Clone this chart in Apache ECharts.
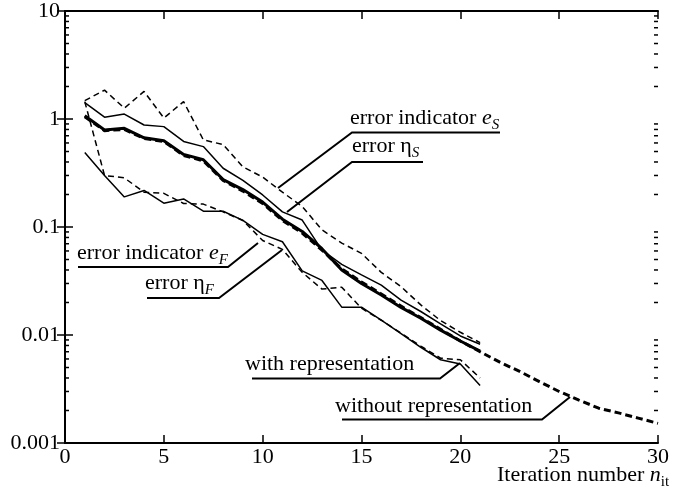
<!DOCTYPE html>
<html>
<head>
<meta charset="utf-8">
<script src="https://cdn.jsdelivr.net/npm/echarts@6/dist/echarts.min.js"></script>
<style>
  html, body { margin: 0; padding: 0; background: #fff; }
  #main { width: 674px; height: 495px; }
</style>
</head>
<body>
<div id="main"></div>
<script>
// iteration numbers
var iters = [1, 2, 3, 4, 5, 6, 7, 8, 9, 10, 11, 12, 13, 14, 15, 16, 17, 18, 19, 20, 21];
var itersLong = [1, 2, 3, 4, 5, 6, 7, 8, 9, 10, 11, 12, 13, 14, 15, 16, 17, 18, 19, 20, 21, 22, 23, 24, 25, 26, 27, 28, 29, 30];

// with representation (thin lines)
var errIndS = [1.48, 1.85, 1.26, 1.80, 1.02, 1.45, 0.64, 0.58, 0.36, 0.29, 0.21, 0.155, 0.094, 0.071, 0.057, 0.038, 0.028, 0.019, 0.0136, 0.0106, 0.0085];
var errEtaS = [1.42, 1.04, 1.11, 0.88, 0.85, 0.62, 0.555, 0.35, 0.27, 0.198, 0.138, 0.116, 0.061, 0.045, 0.036, 0.029, 0.021, 0.0165, 0.0127, 0.0098, 0.0082];
var errIndF = [1.45, 0.30, 0.285, 0.21, 0.205, 0.165, 0.163, 0.138, 0.115, 0.075, 0.062, 0.038, 0.0266, 0.0277, 0.0177, 0.0137, 0.0104, 0.0079, 0.0061, 0.0059, 0.0040];
var errEtaF = [0.49, 0.30, 0.19, 0.218, 0.166, 0.182, 0.140, 0.140, 0.115, 0.0855, 0.073, 0.0393, 0.032, 0.0181, 0.0181, 0.0137, 0.0103, 0.0077, 0.0059, 0.0054, 0.0034];

// without representation (thick lines)
var etaNoRep = [1.07, 0.79, 0.82, 0.67, 0.63, 0.47, 0.42, 0.275, 0.222, 0.17, 0.118, 0.091, 0.063, 0.040, 0.030, 0.0235, 0.018, 0.0143, 0.0111, 0.0088, 0.0071];
var indNoRep = [1.05, 0.78, 0.80, 0.66, 0.62, 0.46, 0.41, 0.27, 0.215, 0.165, 0.115, 0.088, 0.061, 0.041, 0.031, 0.024, 0.0185, 0.0145, 0.0113, 0.0088, 0.0070, 0.0056, 0.0046, 0.0037, 0.0030, 0.0025, 0.0021, 0.0019, 0.0017, 0.00152];

var yTicks = [0.001, 0.01, 0.1, 1, 10];

var FONT = 'Liberation Serif';
var chart = echarts.init(document.getElementById('main'));

function pairs(xs, ys) {
  return xs.map(function (x, i) { return [x, ys[i]]; });
}

function lineSeries(data, width, dashed, z) {
  return {
    type: 'line',
    data: data,
    symbol: 'none',
    z: z,
    lineStyle: { color: '#000', width: width, type: dashed ? (width > 2 ? [7, 4] : [6, 4]) : 'solid' }
  };
}

var axisBase = {
  axisLine: { show: true, lineStyle: { color: '#000', width: 2 } },
  axisTick: { show: true, inside: true, length: 8, lineStyle: { color: '#000', width: 1.5 } },
  splitLine: { show: false }
};

chart.setOption({
  animation: false,
  backgroundColor: '#fff',
  grid: { left: 65, right: 16, top: 10, bottom: 52 },
  xAxis: [
    Object.assign({}, axisBase, {
      type: 'value', min: 0, max: 30, interval: 5, position: 'bottom',
      axisLabel: { color: '#000', fontFamily: FONT, fontSize: 22, margin: 3, showMinLabel: true, showMaxLabel: true }
    }),
    Object.assign({}, axisBase, {
      type: 'value', min: 0, max: 30, interval: 5, position: 'top',
      axisLabel: { show: false }
    })
  ],
  yAxis: [
    Object.assign({}, axisBase, {
      type: 'log', logBase: 10, min: 0.001, max: 10, position: 'left',
      axisLabel: {
        color: '#000', fontFamily: FONT, fontSize: 22, margin: 5,
        formatter: function (v) {
          var best = yTicks.reduce(function (a, b) { return Math.abs(Math.log10(b / v)) < Math.abs(Math.log10(a / v)) ? b : a; });
          return String(best);
        }
      }
    }),
    Object.assign({}, axisBase, {
      type: 'log', logBase: 10, min: 0.001, max: 10, position: 'right',
      axisLabel: { show: false }
    })
  ],
  series: [
    lineSeries(pairs(iters, errIndS), 1.5, true, 2),
    lineSeries(pairs(iters, errEtaS), 1.5, false, 2),
    lineSeries(pairs(iters, errIndF), 1.5, true, 2),
    lineSeries(pairs(iters, errEtaF), 1.5, false, 2),
    lineSeries(pairs(iters, etaNoRep), 3, false, 3),
    lineSeries(pairs(itersLong, indNoRep), 3, true, 3)
  ]
});

// text measuring for the annotation pieces
var ctx = document.createElement('canvas').getContext('2d');
function measure(text, font) { ctx.font = font; return ctx.measureText(text).width; }

var STYLES = {
  n: { size: 22, italic: false, dy: 0 },
  i: { size: 22, italic: true, dy: 0 },
  s: { size: 15, italic: true, dy: 5 },
  r: { size: 15, italic: false, dy: 5 }
};

function richLabel(parts, x, baseline) {
  var out = [];
  var cx = x;
  parts.forEach(function (p) {
    var st = STYLES[p[1]];
    var font = (st.italic ? 'italic ' : '') + st.size + 'px "' + FONT + '"';
    out.push({
      type: 'text', z: 10,
      style: {
        text: p[0], x: cx, y: baseline + st.dy - st.size * 0.3,
        font: font, fill: '#000', align: 'left', verticalAlign: 'middle'
      }
    });
    cx += measure(p[0], font);
  });
  return out;
}

function leader(points, w) {
  return {
    type: 'polyline', z: 10,
    shape: { points: points },
    style: { stroke: '#000', lineWidth: w || 2, fill: null }
  };
}

var graphics = [];
// annotations
graphics = graphics.concat(richLabel([['error indicator ', 'n'], ['e', 'i'], ['S', 's']], 350, 125));
graphics.push(leader([[500, 132.5], [352, 132.5], [278, 188]]));
graphics = graphics.concat(richLabel([['error \u03b7', 'n'], ['S', 's']], 352, 153));
graphics.push(leader([[423, 162], [352, 162], [287, 212]]));
graphics = graphics.concat(richLabel([['error indicator ', 'n'], ['e', 'i'], ['F', 's']], 77, 260));
graphics.push(leader([[78, 267], [228, 267], [258, 243]]));
graphics = graphics.concat(richLabel([['error \u03b7', 'n'], ['F', 's']], 145, 290));
graphics.push(leader([[147, 298], [219, 298], [282, 250]]));
graphics = graphics.concat(richLabel([['with representation', 'n']], 245, 371));
graphics.push(leader([[252, 378.5], [440, 378.5], [460, 363]]));
graphics = graphics.concat(richLabel([['without representation', 'n']], 335, 413));
graphics.push(leader([[342, 419.5], [542, 419.5], [570, 397]]));
// axis title
graphics = graphics.concat(richLabel([['Iteration number ', 'n'], ['n', 'i'], ['it', 'r']], 497, 482));

// log minor ticks on left and right frame
var xL = chart.convertToPixel({ xAxisIndex: 0 }, 0);
var xR = chart.convertToPixel({ xAxisIndex: 0 }, 30);
for (var d = -3; d < 1; d++) {
  for (var k = 2; k <= 9; k++) {
    var y = chart.convertToPixel({ yAxisIndex: 0 }, k * Math.pow(10, d));
    graphics.push({ type: 'line', z: 5, shape: { x1: xL, y1: y, x2: xL + 4, y2: y }, style: { stroke: '#000', lineWidth: 1.5 } });
    graphics.push({ type: 'line', z: 5, shape: { x1: xR, y1: y, x2: xR - 4, y2: y }, style: { stroke: '#000', lineWidth: 1.5 } });
  }
}

chart.setOption({ graphic: { elements: graphics } });
</script>
</body>
</html>
